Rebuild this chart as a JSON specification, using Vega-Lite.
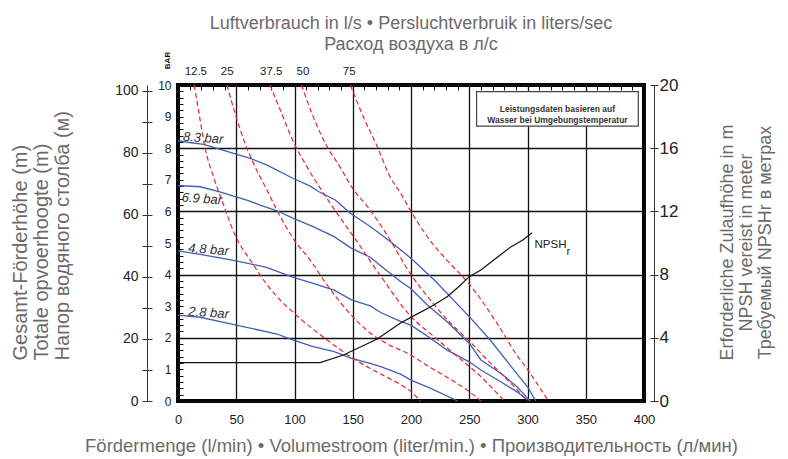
{
  "$schema": "https://vega.github.io/schema/vega-lite/v6.json",
  "width": 466,
  "height": 316,
  "autosize": "none",
  "padding": {"left": 178, "top": 85, "right": 144, "bottom": 58},
  "background": "white",
  "title": {
    "text": ["Luftverbrauch in l/s • Persluchtverbruik in liters/sec", "Расход воздуха в л/с"],
    "anchor": "middle", "frame": "group", "font": "Liberation Sans", "fontSize": 18,
    "fontWeight": "normal", "color": "#6b6b6b", "lineHeight": 21, "offset": 6, "dy": 9
  },
  "config": {"view": {"stroke": "#000", "strokeWidth": 4}},
  "resolve": {"scale": {"y": "independent"}, "axis": {"x": "independent", "y": "independent"}},
  "layer": [
    {
      "data": {"values": [
        {"p":"8.3","flow":0,"bar":8.24},{"p":"8.3","flow":10,"bar":8.18},{"p":"8.3","flow":22,"bar":8.12},{"p":"8.3","flow":35,"bar":7.98},{"p":"8.3","flow":49,"bar":7.82},{"p":"8.3","flow":62,"bar":7.68},{"p":"8.3","flow":76,"bar":7.47},{"p":"8.3","flow":99,"bar":7.04},{"p":"8.3","flow":113.5,"bar":6.8},{"p":"8.3","flow":121,"bar":6.62},{"p":"8.3","flow":135,"bar":6.36},{"p":"8.3","flow":148,"bar":5.94},{"p":"8.3","flow":165,"bar":5.52},{"p":"8.3","flow":176,"bar":5.22},{"p":"8.3","flow":184,"bar":4.99},{"p":"8.3","flow":200,"bar":4.52},{"p":"8.3","flow":220,"bar":3.83},{"p":"8.3","flow":250,"bar":2.67},{"p":"8.3","flow":268,"bar":1.93},{"p":"8.3","flow":286,"bar":1.09},{"p":"8.3","flow":300,"bar":0.45},{"p":"8.3","flow":307,"bar":0},
        {"p":"6.9","flow":0,"bar":6.82},{"p":"6.9","flow":19,"bar":6.78},{"p":"6.9","flow":36,"bar":6.62},{"p":"6.9","flow":49,"bar":6.47},{"p":"6.9","flow":59,"bar":6.36},{"p":"6.9","flow":70.5,"bar":6.2},{"p":"6.9","flow":85,"bar":6.02},{"p":"6.9","flow":99,"bar":5.78},{"p":"6.9","flow":116,"bar":5.52},{"p":"6.9","flow":134,"bar":5.2},{"p":"6.9","flow":149,"bar":4.83},{"p":"6.9","flow":165,"bar":4.55},{"p":"6.9","flow":174,"bar":4.28},{"p":"6.9","flow":191,"bar":3.78},{"p":"6.9","flow":200,"bar":3.55},{"p":"6.9","flow":214,"bar":3.04},{"p":"6.9","flow":231,"bar":2.51},{"p":"6.9","flow":250,"bar":1.83},{"p":"6.9","flow":260,"bar":1.3},{"p":"6.9","flow":277,"bar":0.88},{"p":"6.9","flow":291,"bar":0.45},{"p":"6.9","flow":300,"bar":0.09},{"p":"6.9","flow":302,"bar":0},
        {"p":"4.8","flow":0,"bar":4.75},{"p":"4.8","flow":19,"bar":4.64},{"p":"4.8","flow":49,"bar":4.44},{"p":"4.8","flow":76,"bar":4.23},{"p":"4.8","flow":99,"bar":3.91},{"p":"4.8","flow":116,"bar":3.72},{"p":"4.8","flow":134,"bar":3.51},{"p":"4.8","flow":149,"bar":3.2},{"p":"4.8","flow":165,"bar":3.01},{"p":"4.8","flow":174,"bar":2.8},{"p":"4.8","flow":191,"bar":2.52},{"p":"4.8","flow":200,"bar":2.4},{"p":"4.8","flow":217,"bar":1.98},{"p":"4.8","flow":231,"bar":1.61},{"p":"4.8","flow":250,"bar":1.24},{"p":"4.8","flow":260,"bar":0.98},{"p":"4.8","flow":277,"bar":0.61},{"p":"4.8","flow":291,"bar":0.29},{"p":"4.8","flow":300,"bar":0.03},
        {"p":"2.8","flow":0,"bar":2.72},{"p":"2.8","flow":19,"bar":2.65},{"p":"2.8","flow":49,"bar":2.41},{"p":"2.8","flow":85,"bar":2.12},{"p":"2.8","flow":99,"bar":1.93},{"p":"2.8","flow":116,"bar":1.72},{"p":"2.8","flow":134,"bar":1.56},{"p":"2.8","flow":149,"bar":1.35},{"p":"2.8","flow":165,"bar":1.19},{"p":"2.8","flow":174,"bar":1.09},{"p":"2.8","flow":182,"bar":0.98},{"p":"2.8","flow":191,"bar":0.85},{"p":"2.8","flow":200,"bar":0.66},{"p":"2.8","flow":217,"bar":0.4},{"p":"2.8","flow":240,"bar":0}
      ]},
      "mark": {"type": "line", "color": "#3f5fb8", "strokeWidth": 1.3},
      "encoding": {
        "x": {"field": "flow", "type": "quantitative", "scale": {"domain": [0, 400], "nice": false},
          "axis": {"values": [0,50,100,150,200,250,300,350,400], "grid": true, "gridColor": "#111", "gridWidth": 1.3,
            "ticks": false, "domain": false, "labelFont": "Liberation Sans", "labelFontSize": 13, "labelColor": "#222",
            "labelPadding": 12, "labelFlush": false, "labelOverlap": false,
            "title": "Fördermenge (l/min) • Volumestroom (liter/min.) • Производительность (л/мин)",
            "titleFont": "Liberation Sans", "titleFontSize": 18.5, "titleFontWeight": "normal", "titleColor": "#6b6b6b",
            "titleY": 44, "titleBaseline": "middle"}},
        "y": {"field": "bar", "type": "quantitative", "scale": {"domain": [0, 10], "nice": false},
          "axis": {"orient": "left", "values": [0,1,2,3,4,5,6,7,8,9,10], "ticks": false, "domain": false, "grid": false,
            "labelFont": "Liberation Sans", "labelFontSize": 12, "labelColor": "#222", "labelPadding": 7, "labelFlush": false, "labelOverlap": false,
            "title": "BAR", "titleAngle": 270, "titleFont": "Liberation Sans", "titleFontSize": 8, "titleFontWeight": "bold", "titleColor": "#111",
            "titleX": -11, "titleY": -25, "titleAlign": "center", "titleBaseline": "middle"}},
        "detail": {"field": "p", "type": "nominal"}
      }
    },
    {
      "data": {"values": [
        {"a":"12.5","flow":14,"bar":10},{"a":"12.5","flow":19,"bar":8.89},{"a":"12.5","flow":23,"bar":8.05},{"a":"12.5","flow":30.4,"bar":7.1},{"a":"12.5","flow":37.6,"bar":6.36},{"a":"12.5","flow":49,"bar":5.25},{"a":"12.5","flow":65,"bar":4.3},{"a":"12.5","flow":76,"bar":3.7},{"a":"12.5","flow":85,"bar":3.3},{"a":"12.5","flow":99,"bar":2.8},{"a":"12.5","flow":114,"bar":2.33},{"a":"12.5","flow":128,"bar":1.93},{"a":"12.5","flow":149,"bar":1.38},{"a":"12.5","flow":165,"bar":1.03},{"a":"12.5","flow":182,"bar":0.7},{"a":"12.5","flow":191,"bar":0.52},{"a":"12.5","flow":200,"bar":0.3},{"a":"12.5","flow":208,"bar":0},
        {"a":"25","flow":42,"bar":10},{"a":"25","flow":49,"bar":9.1},{"a":"25","flow":57.6,"bar":8.15},{"a":"25","flow":64.8,"bar":7.52},{"a":"25","flow":76.3,"bar":6.68},{"a":"25","flow":84.9,"bar":6.04},{"a":"25","flow":100,"bar":5.08},{"a":"25","flow":113.5,"bar":4.46},{"a":"25","flow":125,"bar":3.83},{"a":"25","flow":136.5,"bar":3.25},{"a":"25","flow":150,"bar":2.67},{"a":"25","flow":165,"bar":2.15},{"a":"25","flow":180,"bar":1.8},{"a":"25","flow":200,"bar":1.45},{"a":"25","flow":217,"bar":1.05},{"a":"25","flow":231,"bar":0.75},{"a":"25","flow":248,"bar":0.35},{"a":"25","flow":260,"bar":0},
        {"a":"37.5","flow":79,"bar":10},{"a":"37.5","flow":89,"bar":9.1},{"a":"37.5","flow":99,"bar":8.21},{"a":"37.5","flow":110.7,"bar":7.41},{"a":"37.5","flow":125,"bar":6.57},{"a":"37.5","flow":136.5,"bar":5.94},{"a":"37.5","flow":150.8,"bar":5.2},{"a":"37.5","flow":175,"bar":3.9},{"a":"37.5","flow":200,"bar":2.67},{"a":"37.5","flow":220,"bar":2.03},{"a":"37.5","flow":240,"bar":1.4},{"a":"37.5","flow":260,"bar":0.77},{"a":"37.5","flow":280,"bar":0},
        {"a":"50","flow":106,"bar":10},{"a":"50","flow":116,"bar":9},{"a":"50","flow":128,"bar":8.05},{"a":"50","flow":139,"bar":7.41},{"a":"50","flow":149,"bar":6.78},{"a":"50","flow":165,"bar":6.04},{"a":"50","flow":179.5,"bar":5.25},{"a":"50","flow":200,"bar":4.0},{"a":"50","flow":217,"bar":3.18},{"a":"50","flow":234,"bar":2.46},{"a":"50","flow":250,"bar":1.9},{"a":"50","flow":266,"bar":1.28},{"a":"50","flow":280,"bar":0.77},{"a":"50","flow":290,"bar":0.4},{"a":"50","flow":300,"bar":0},
        {"a":"75","flow":148,"bar":10},{"a":"75","flow":159,"bar":9},{"a":"75","flow":171,"bar":8.05},{"a":"75","flow":182,"bar":7.1},{"a":"75","flow":191,"bar":6.58},{"a":"75","flow":200,"bar":6.0},{"a":"75","flow":218,"bar":5.0},{"a":"75","flow":231,"bar":4.45},{"a":"75","flow":250,"bar":3.7},{"a":"75","flow":274,"bar":2.45},{"a":"75","flow":290,"bar":1.5},{"a":"75","flow":300,"bar":1.0},{"a":"75","flow":310,"bar":0.45},{"a":"75","flow":318,"bar":0}
      ]},
      "mark": {"type": "line", "color": "#e8262b", "strokeWidth": 1.2, "strokeDash": [5, 3], "interpolate": "monotone"},
      "encoding": {
        "x": {"field": "flow", "type": "quantitative", "scale": {"domain": [0, 400], "nice": false},
          "axis": {"values": [0,10,20,30,40,50,60,70,80,90,100,110,120,130,140,150,160,170,180,190,200,210,220,230,240,250,260,270,280,290,300,310,320,330,340,350,360,370,380,390,400],
            "labels": false, "ticks": true, "tickSize": -5, "tickColor": "#111", "domain": false, "grid": false, "title": null}},
        "y": {"field": "bar", "type": "quantitative", "scale": {"domain": [0, 10], "nice": false},
          "axis": {"orient": "left", "values": [0,0.2,0.4,0.6,0.8,1,1.2,1.4,1.6,1.8,2,2.2,2.4,2.6,2.8,3,3.2,3.4,3.6,3.8,4,4.2,4.4,4.6,4.8,5,5.2,5.4,5.6,5.8,6,6.2,6.4,6.6,6.8,7,7.2,7.4,7.6,7.8,8,8.2,8.4,8.6,8.8,9,9.2,9.4,9.6,9.8,10],
            "labels": false, "ticks": true, "tickSize": -5, "tickColor": "#111", "domain": false, "grid": false, "title": null}},
        "detail": {"field": "a", "type": "nominal"}
      }
    },
    {
      "data": {"values": [
        {"label":"8.3 bar","flow":4.3,"bar":8.36},{"label":"6.9 bar","flow":3.2,"bar":6.44},{"label":"4.8 bar","flow":8.9,"bar":4.83},{"label":"2.8 bar","flow":8.9,"bar":2.83}
      ]},
      "mark": {"type": "text", "align": "left", "baseline": "middle", "angle": 4, "font": "Liberation Sans", "fontSize": 13, "fontStyle": "italic", "color": "#333"},
      "encoding": {
        "x": {"field": "flow", "type": "quantitative", "scale": {"domain": [0, 400], "nice": false}, "axis": null},
        "y": {"field": "bar", "type": "quantitative", "scale": {"domain": [0, 10], "nice": false}, "axis": null},
        "text": {"field": "label"}
      }
    },
    {
      "data": {"values": [
        {"flow":0,"npsh":2.43},{"flow":122,"npsh":2.43},{"flow":142,"npsh":2.91},{"flow":171,"npsh":3.92},{"flow":191,"npsh":4.94},{"flow":201,"npsh":5.34},{"flow":217,"npsh":5.97},{"flow":231,"npsh":6.6},{"flow":241,"npsh":7.23},{"flow":250,"npsh":7.87},{"flow":260,"npsh":8.29},{"flow":271,"npsh":8.92},{"flow":286,"npsh":9.77},{"flow":296,"npsh":10.19},{"flow":304,"npsh":10.65}
      ]},
      "mark": {"type": "line", "color": "#111", "strokeWidth": 1.2},
      "encoding": {
        "x": {"field": "flow", "type": "quantitative", "scale": {"domain": [0, 400], "nice": false}, "axis": null},
        "y": {"field": "npsh", "type": "quantitative", "scale": {"domain": [0, 20], "nice": false},
          "axis": {"orient": "right", "offset": 10, "values": [0,4,8,12,16,20], "grid": true, "gridColor": "#111", "gridWidth": 1.3,
            "tickSize": 4, "tickColor": "#333", "domain": true, "domainColor": "#333", "domainWidth": 1,
            "labelFont": "Liberation Sans", "labelFontSize": 17, "labelColor": "#222", "labelPadding": 1, "labelFlush": false, "labelOverlap": false,
            "title": ["Erforderliche Zulaufhöhe in m", "NPSH vereist in meter", "Требуемый  NPSHr в метрах"],
            "titleAngle": 270, "titleAlign": "center", "titleBaseline": "middle", "titleX": 73, "titleY": 157,
            "titleFont": "Liberation Sans", "titleFontSize": 18, "titleLineHeight": 19, "titleFontWeight": "normal", "titleColor": "#6b6b6b"}}
      }
    },
    {
      "data": {"values": [
        {"t":"NPSH","flow":306,"npsh":9.87,"s":11.5},{"t":"r","flow":333.5,"npsh":9.45,"s":11}
      ]},
      "mark": {"type": "text", "align": "left", "baseline": "middle", "font": "Liberation Sans", "color": "#222"},
      "encoding": {
        "x": {"field": "flow", "type": "quantitative", "scale": {"domain": [0, 400], "nice": false}, "axis": null},
        "y": {"field": "npsh", "type": "quantitative", "scale": {"domain": [0, 20], "nice": false},
          "axis": {"orient": "right", "offset": 10, "values": [0,4,8,12,16,20], "tickSize": -4, "tickColor": "#333",
            "labels": false, "domain": false, "grid": false, "title": null}},
        "text": {"field": "t"},
        "size": {"field": "s", "type": "quantitative", "scale": null}
      }
    },
    {
      "data": {"values": []},
      "mark": {"type": "point", "opacity": 0},
      "encoding": {
        "x": {"field": "flow", "type": "quantitative", "scale": {"domain": [0, 400], "nice": false}, "axis": null},
        "y": {"field": "m", "type": "quantitative", "scale": {"domain": [0, 101.9], "nice": false},
          "axis": {"orient": "left", "offset": 31, "values": [0,10,20,30,40,50,60,70,80,90,100],
            "labelExpr": "datum.value % 20 === 0 ? datum.label : ''",
            "tickSize": 5, "tickColor": "#333", "domain": true, "domainColor": "#333", "domainWidth": 1, "grid": false,
            "labelFont": "Liberation Sans", "labelFontSize": 14, "labelColor": "#222", "labelPadding": 4, "labelFlush": false, "labelOverlap": false,
            "title": ["Gesamt-Förderhöhe (m)", "Totale opvoerhoogte (m)", "Напор водяного столба (м)"],
            "titleAngle": 270, "titleAlign": "left", "titleBaseline": "middle", "titleX": -127, "titleY": 275,
            "titleFont": "Liberation Sans", "titleFontSize": 20, "titleLineHeight": 21, "titleFontWeight": "normal", "titleColor": "#6b6b6b"}}
      }
    },
    {
      "data": {"values": []},
      "mark": {"type": "point", "opacity": 0},
      "encoding": {
        "x": {"field": "flow", "type": "quantitative", "scale": {"domain": [0, 400], "nice": false}, "axis": null},
        "y": {"field": "m", "type": "quantitative", "scale": {"domain": [0, 101.9], "nice": false},
          "axis": {"orient": "left", "offset": 31, "values": [0,10,20,30,40,50,60,70,80,90,100],
            "tickSize": -5, "tickColor": "#333", "labels": false, "domain": false, "grid": false, "title": null}}
      }
    },
    {
      "data": {"values": [{"x1": 256.3, "x2": 395.1, "y1": 9.79, "y2": 8.7}]},
      "mark": {"type": "rect", "fill": "white", "stroke": "#444", "strokeWidth": 1.2},
      "encoding": {
        "x": {"field": "x1", "type": "quantitative", "scale": {"domain": [0, 400], "nice": false}, "axis": null},
        "x2": {"field": "x2"},
        "y": {"field": "y1", "type": "quantitative", "scale": {"domain": [0, 10], "nice": false}, "axis": null},
        "y2": {"field": "y2"}
      }
    },
    {
      "data": {"values": [{"t": "Leistungsdaten basieren auf\nWasser bei Umgebungstemperatur", "flow": 325.7, "bar": 9.255}]},
      "mark": {"type": "text", "align": "center", "baseline": "middle", "lineBreak": "\n", "lineHeight": 11.7, "font": "Liberation Sans", "fontSize": 8.5, "fontWeight": "bold", "color": "#333"},
      "encoding": {
        "x": {"field": "flow", "type": "quantitative", "scale": {"domain": [0, 400], "nice": false}, "axis": null},
        "y": {"field": "bar", "type": "quantitative", "scale": {"domain": [0, 10], "nice": false}, "axis": null},
        "text": {"field": "t"}
      }
    },
    {
      "data": {"values": [
        {"a":"12.5","flow":15.3,"bar":10},{"a":"25","flow":42.2,"bar":10},{"a":"37.5","flow":80,"bar":10},{"a":"50","flow":107.2,"bar":10},{"a":"75","flow":146.9,"bar":10}
      ]},
      "mark": {"type": "text", "align": "center", "baseline": "middle", "dy": -13, "font": "Liberation Sans", "fontSize": 11.5, "color": "#222"},
      "encoding": {
        "x": {"field": "flow", "type": "quantitative", "scale": {"domain": [0, 400], "nice": false}, "axis": null},
        "y": {"field": "bar", "type": "quantitative", "scale": {"domain": [0, 10], "nice": false}, "axis": null},
        "text": {"field": "a"}
      }
    }
  ]
}
